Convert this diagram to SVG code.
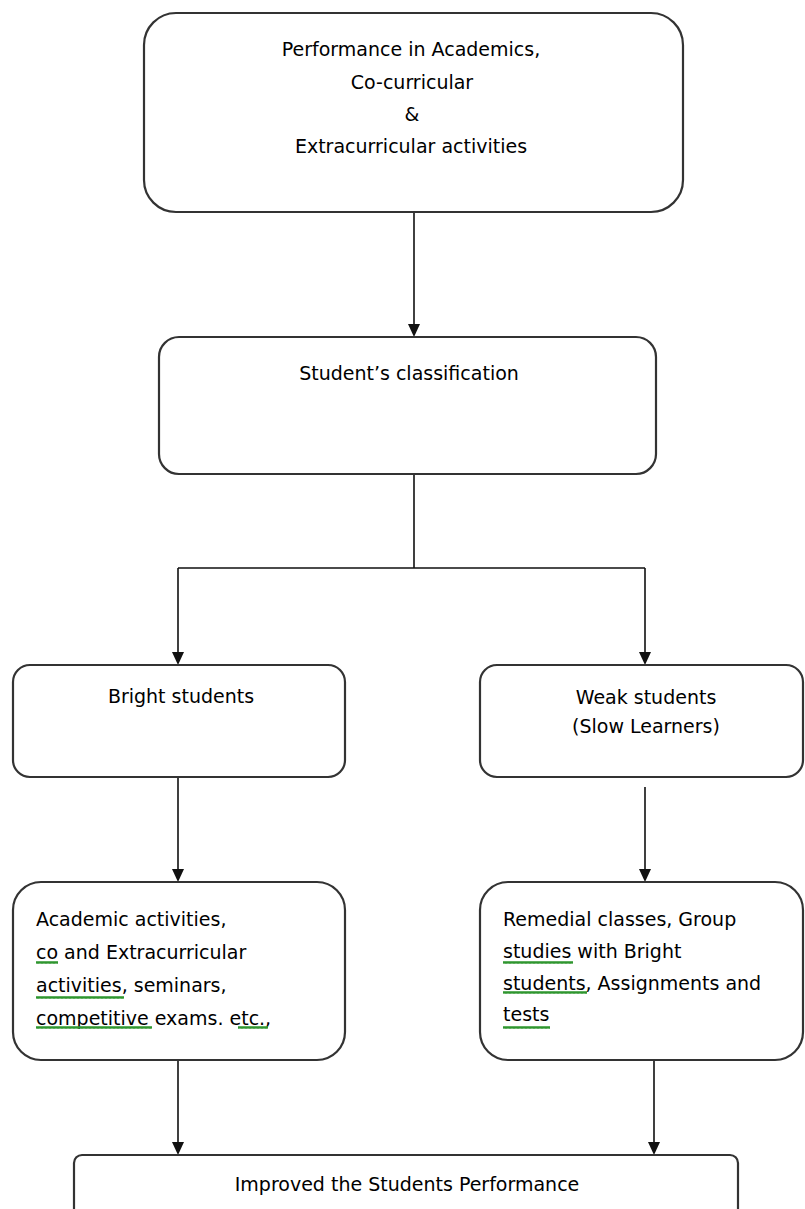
<svg xmlns="http://www.w3.org/2000/svg" width="805" height="1209" viewBox="0 0 805 1209">
<style>
.box{fill:#fff;stroke:#333;stroke-width:2.2}
.t{font-family:"DejaVu Sans","Liberation Sans",sans-serif;font-size:19px;fill:#000}
.c{text-anchor:middle}
.ln{stroke:#111;stroke-width:1.6;fill:none}
.sq{fill:url(#wave)}
</style>
<defs>
<pattern id="wave" x="0" y="0" width="4" height="5" patternUnits="userSpaceOnUse">
<path d="M0,4 L1,1 L2,4 L3,1 L4,4" fill="none" stroke="#2f962f" stroke-width="1"/>
</pattern>
</defs>
<g id="connectors">
<path class="ln" d="M414,212 V324"/>
<path d="M408,324 L420,324 L414,337 Z" fill="#111"/>
<path class="ln" d="M414,474 V568 M178,568 H645 M178,568 V652 M645,568 V652"/>
<path d="M172,652 L184,652 L178,665 Z" fill="#111"/>
<path d="M639,652 L651,652 L645,665 Z" fill="#111"/>
<path class="ln" d="M178,777 V869 M645,787 V869"/>
<path d="M172,869 L184,869 L178,882 Z" fill="#111"/>
<path d="M639,869 L651,869 L645,882 Z" fill="#111"/>
<path class="ln" d="M178,1060 V1142 M654,1060 V1142"/>
<path d="M172,1142 L184,1142 L178,1155 Z" fill="#111"/>
<path d="M648,1142 L660,1142 L654,1155 Z" fill="#111"/>
</g>
<g id="performance">
<rect class="box" x="144" y="13" width="539" height="199" rx="32"/>
<text class="t c" x="411" y="56">Performance in Academics,</text>
<text class="t c" x="412" y="89">Co-curricular</text>
<text class="t c" x="412" y="121">&amp;</text>
<text class="t c" x="411" y="153">Extracurricular activities</text>
</g>
<g id="classification">
<rect class="box" x="159" y="337" width="497" height="137" rx="20"/>
<text class="t c" x="409" y="380">Student’s classification</text>
</g>
<g id="bright">
<rect class="box" x="13" y="665" width="332" height="112" rx="17"/>
<text class="t c" x="181" y="703">Bright students</text>
</g>
<g id="weak">
<rect class="box" x="480" y="665" width="323" height="112" rx="17"/>
<text class="t c" x="646" y="704">Weak students</text>
<text class="t c" x="646" y="733">(Slow Learners)</text>
</g>
<g id="bright-activities">
<rect class="box" x="13" y="882" width="332" height="178" rx="28"/>
<text class="t" x="36" y="926">Academic activities,</text>
<text class="t" x="36" y="959">co and Extracurricular</text>
<text class="t" x="36" y="992">activities, seminars,</text>
<text class="t" x="36" y="1025">competitive exams. etc.,</text>
<rect class="sq" x="36" y="960" width="22" height="5"/>
<rect class="sq" x="36" y="995" width="88" height="5"/>
<rect class="sq" x="36" y="1025" width="116" height="5"/>
<rect class="sq" x="238" y="1025" width="30" height="5"/>
</g>
<g id="weak-activities">
<rect class="box" x="480" y="882" width="323" height="178" rx="28"/>
<text class="t" x="503" y="926">Remedial classes, Group</text>
<text class="t" x="503" y="958">studies with Bright</text>
<text class="t" x="503" y="990">students, Assignments and</text>
<text class="t" x="503" y="1021">tests</text>
<rect class="sq" x="503" y="960" width="70" height="5"/>
<rect class="sq" x="503" y="990" width="84" height="5"/>
<rect class="sq" x="503" y="1025" width="47" height="5"/>
</g>
<g id="improved">
<rect class="box" x="74" y="1155" width="664" height="70" rx="8"/>
<text class="t c" x="407" y="1191">Improved the Students Performance</text>
</g>
</svg>
